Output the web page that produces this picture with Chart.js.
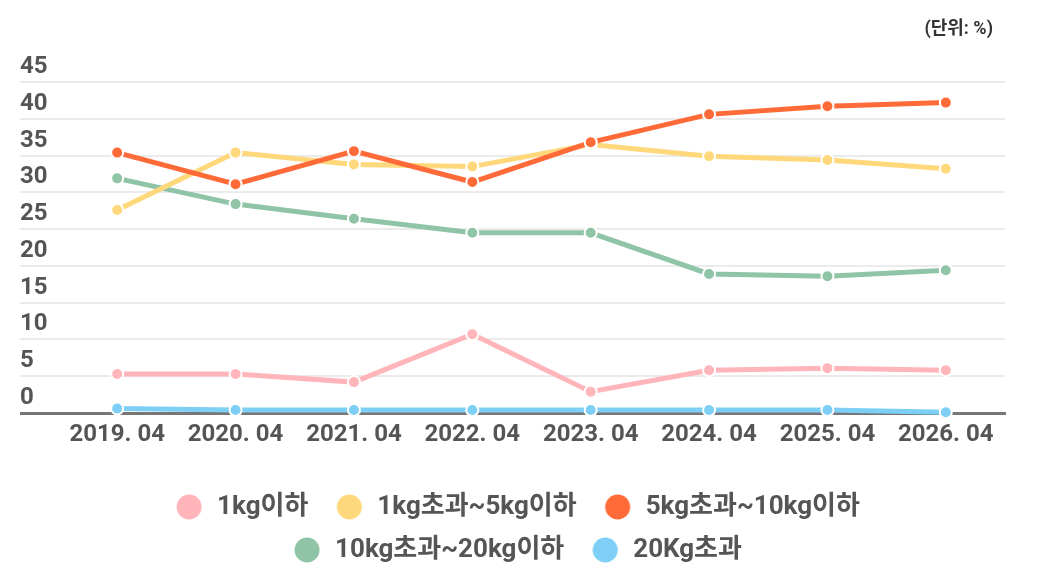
<!DOCTYPE html>
<html>
<head>
<meta charset="utf-8">
<script src="https://cdn.jsdelivr.net/npm/chart.js@4"></script>
<style>
  html, body { margin: 0; padding: 0; background: #fff; }
  #wrap { width: 1042px; height: 586px; }
</style>
</head>
<body>
<div id="wrap"><canvas id="weightChart"></canvas></div>
<script>
const years = ['2019. 04', '2020. 04', '2021. 04', '2022. 04', '2023. 04', '2024. 04', '2025. 04', '2026. 04'];
const under1kg = [5.3, 5.3, 4.2, 10.7, 2.9, 5.8, 6.1, 5.8];
const from1to5kg = [27.6, 35.4, 33.8, 33.5, 36.5, 34.9, 34.4, 33.2];
const from5to10kg = [35.4, 31.1, 35.6, 31.4, 36.8, 40.6, 41.7, 42.2];
const from10to20kg = [31.9, 28.4, 26.4, 24.5, 24.5, 18.9, 18.6, 19.4];
const over20kg = [0.6, 0.4, 0.4, 0.4, 0.4, 0.4, 0.4, 0.1];
const yTicks = [0, 5, 10, 15, 20, 25, 30, 35, 40, 45];

const FONT = "Roboto, 'Noto Sans CJK KR', sans-serif";

function makeSeries(label, data, color, order) {
    return {
        label: label,
        data: data,
        borderColor: color,
        backgroundColor: color,
        borderWidth: 5,
        pointRadius: 6,
        pointBorderWidth: 2,
        pointBorderColor: '#fff',
        pointBackgroundColor: color,
        tension: 0,
        clip: false,
        order: order
    };
}

// legend dot with some room on its left, so the spacing matches
function legendDot(color) {
    const c = document.createElement('canvas');
    c.width = 39;
    c.height = 26;
    const g = c.getContext('2d');
    g.fillStyle = color;
    g.beginPath();
    g.arc(24, 13, 12.5, 0, Math.PI * 2);
    g.fill();
    return c;
}

const unitLabel = {
    id: 'unitLabel',
    afterDraw(chart) {
        const ctx = chart.ctx;
        ctx.save();
        ctx.font = 'bold 18px ' + FONT;
        ctx.fillStyle = '#333';
        ctx.textAlign = 'right';
        ctx.textBaseline = 'middle';
        ctx.fillText('(단위: %)', chart.chartArea.right - 12, 29);
        ctx.restore();
    }
};

const ctx = document.getElementById('weightChart').getContext('2d');
new Chart(ctx, {
    type: 'line',
    data: {
        labels: years,
        datasets: [
            makeSeries('1kg이하', under1kg, '#FFB5BA', 1),
            makeSeries('1kg초과~5kg이하', from1to5kg, '#FFD87B', 1),
            makeSeries('5kg초과~10kg이하', from5to10kg, '#FF6B38', 0),
            makeSeries('10kg초과~20kg이하', from10to20kg, '#8FC4A6', 1),
            makeSeries('20Kg초과', over20kg, '#7DCFF5', 1)
        ]
    },
    options: {
        responsive: true,
        maintainAspectRatio: false,
        animation: false,
        layout: { padding: { left: 20, right: 37, top: 82, bottom: 13 } },
        scales: {
            x: {
                offset: true,
                grid: { display: false, drawTicks: false },
                border: { display: true, color: '#777', width: 3 },
                ticks: {
                    color: '#555',
                    padding: 8,
                    maxRotation: 0,
                    font: { family: FONT, size: 24, weight: 'bold' }
                },
                afterFit: (axis) => { axis.height = 64; }
            },
            y: {
                min: 0,
                max: 45,
                afterBuildTicks: (axis) => { axis.ticks = yTicks.map(v => ({ value: v })); },
                border: { display: false },
                grid: {
                    color: (c) => c.tick && c.tick.value === 0 ? '#777' : '#ebebeb',
                    lineWidth: (c) => c.tick && c.tick.value === 0 ? 3 : 2,
                    tickLength: 38
                },
                ticks: {
                    color: '#555',
                    crossAlign: 'far',
                    labelOffset: -15,
                    font: { family: FONT, size: 24, weight: 'bold' }
                },
                afterFit: (axis) => { axis.width = 38; }
            }
        },
        plugins: {
            tooltip: { enabled: false },
            legend: {
                position: 'bottom',
                labels: {
                    usePointStyle: true,
                    pointStyleWidth: 39,
                    boxHeight: 26,
                    padding: 17,
                    color: '#555',
                    font: { family: FONT, size: 26, weight: 'bold' },
                    sort: (a, b) => a.datasetIndex - b.datasetIndex,
                    generateLabels: (chart) => {
                        const items = Chart.defaults.plugins.legend.labels.generateLabels(chart);
                        items.forEach(item => {
                            const ds = chart.data.datasets[item.datasetIndex];
                            item.pointStyle = legendDot(ds.borderColor);
                            item.fontColor = '#555';
                        });
                        return items;
                    }
                }
            }
        }
    },
    plugins: [unitLabel]
});
</script>
</body>
</html>
